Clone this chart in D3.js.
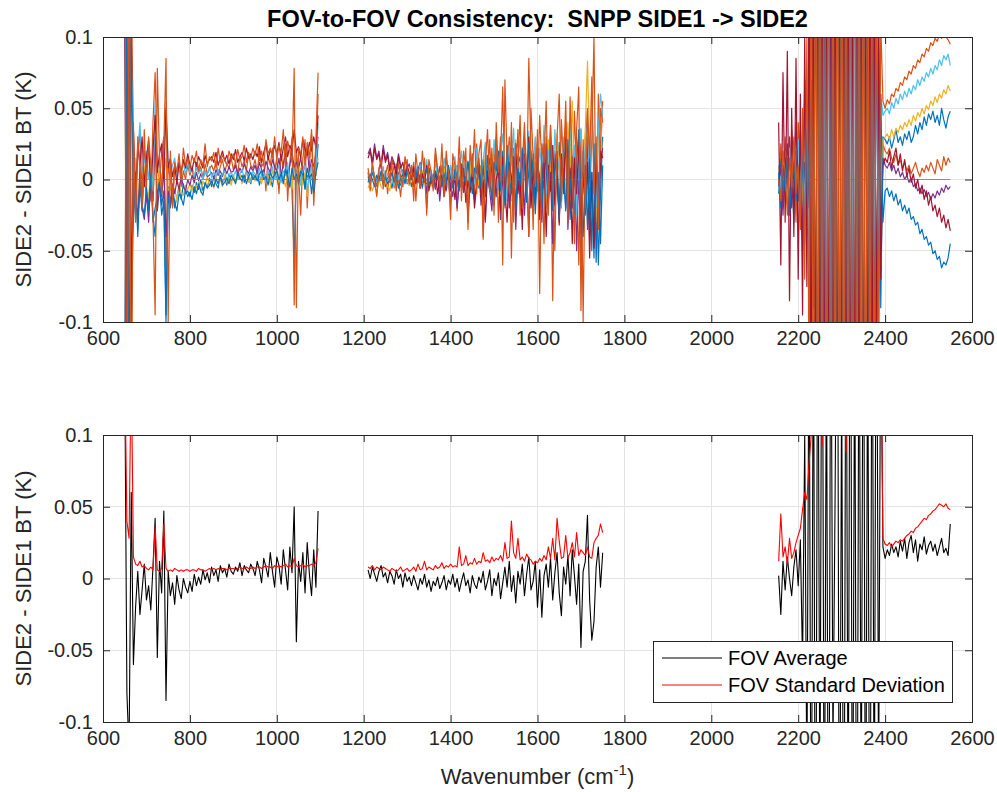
<!DOCTYPE html>
<html><head><meta charset="utf-8">
<script src="https://cdn.jsdelivr.net/npm/d3@7"></script>
<style>
body{margin:0;background:#fff;}
svg{display:block;font-family:"Liberation Sans",Arial,Helvetica,sans-serif;}
</style>
</head><body>
<svg id="chart" width="997" height="792"></svg>
<script>
// ---------------- DATA ----------------
// Wavenumber channel grid (cm-1) of the three CrIS bands, 5 cm-1 sampling
const bandStart = [650, 1210, 2155];
const bandEnd = [1095, 1750, 2550];
const bandStep = 5;
const wavenumber = [].concat(...bandStart.map((s, i) => d3.range(s, bandEnd[i] + 1, bandStep)));

const xTicks = [600, 800, 1000, 1200, 1400, 1600, 1800, 2000, 2200, 2400, 2600];
const yTicks = [-0.1, -0.05, 0, 0.05, 0.1];
const yTickLabels = ["-0.1", "-0.05", "0", "0.05", "0.1"];

const fovNames = ["FOV1","FOV2","FOV3","FOV4","FOV5","FOV6","FOV7","FOV8","FOV9"];
const fovColors = ["#0072BD","#D95319","#EDB120","#7E2F8E","#77AC30","#4DBEEE","#A2142F","#0072BD","#D95319"];
const legendLabels = ["FOV Average", "FOV Standard Deviation"];

// SIDE2 - SIDE1 BT differences, mK
const fov1 = [
180,-160,90,-110,-15,8,-28,-5,-22,4,
-12,-18,6,-25,-40,-10,2,-18,-8,-95,
-5,-15,-8,-20,-12,-6,-14,-3,-10,-8,
-12,-4,-9,-2,-7,0,-8,-3,-6,1,
-5,2,-3,-6,3,-2,1,-4,4,-1,
2,-3,5,0,3,-2,6,1,-3,4,
0,5,-4,3,7,-2,4,1,-5,6,
2,-6,5,0,8,-4,3,-8,-55,6,
-3,4,9,-7,2,5,-10,6,3,25,
2,-3,5,0,-4,3,-1,4,-5,1,
3,-6,2,-2,5,-4,0,6,-3,2,
-5,4,-1,7,-6,2,5,-3,8,-2,
3,-7,6,0,-4,9,-2,5,-8,4,
0,10,-5,6,-9,3,12,-4,7,-1,
11,-6,4,14,-8,2,15,-10,6,18,
-12,8,20,-5,13,-15,22,4,-18,10,
16,-8,25,-14,6,20,-20,12,3,-25,
18,-6,24,-16,9,-22,15,2,26,-12,
8,-20,18,-28,5,22,-15,10,-32,14,
-25,12,-40,5,-55,20,-60,-10,30,
-10,15,-20,5,25,-15,10,-30,20,-5,
30,-25,12,-40,45,-60,80,-150,200,-250,
300,-280,220,-350,260,-200,320,-300,250,-220,
280,-330,240,-260,350,-300,270,-240,310,-280,
230,-320,260,-200,150,-180,120,-90,30,28,
25,30,22,28,35,26,30,24,32,28,
34,26,30,38,32,40,35,44,38,46,
42,48,40,45,38,50,42,36,44,48];

const fov2 = [
-150,250,-180,140,30,-20,15,35,-10,20,
5,25,-15,40,75,10,-5,20,30,-60,
10,0,-20,8,2,12,-5,6,0,10,
3,8,-2,12,5,9,1,11,4,7,
10,6,13,3,9,14,5,11,8,15,
7,12,4,16,9,13,6,18,10,8,
14,5,20,9,12,-8,17,10,22,6,
15,-10,18,8,25,-15,12,30,-88,20,
5,-25,15,28,-20,10,32,-18,14,60,
5,-8,10,2,-5,8,12,-3,6,-10,
4,9,-6,11,0,-12,7,3,14,-4,
2,12,-15,6,9,-2,15,-25,8,4,
-6,18,3,-10,10,-4,20,0,-18,12,
5,-22,15,8,-8,22,-35,6,18,-12,
25,-5,10,-40,20,2,28,-15,12,30,
-30,15,65,-20,8,30,-55,22,5,35,
-25,12,40,-10,85,18,-35,28,-8,45,
10,-45,30,0,38,-85,20,12,-30,42,
8,55,-20,25,-15,48,5,-60,35,-100,
20,50,-15,30,100,-40,60,15,55,
0,25,-15,30,5,-20,35,10,-30,40,
15,-45,60,-20,90,-120,160,-200,250,-300,
280,-260,320,-240,300,-280,260,-320,290,-250,
310,-270,240,-330,280,-260,300,-290,250,-310,
270,-240,200,-220,180,-150,90,-60,25,20,
18,22,15,12,18,10,14,8,12,6,
10,4,8,12,6,2,8,5,10,6,
12,8,4,14,10,6,16,10,15,12];

const fov3 = [
120,-200,60,-80,-10,15,-20,5,-15,10,
-8,-12,8,-18,20,-5,6,-10,2,15,
-10,-4,-12,-6,-15,-2,-9,-11,-4,-7,
-3,-8,0,-6,-2,-9,-1,-5,2,-4,
-1,-6,2,-3,0,-5,3,-2,1,-4,
3,-1,0,4,-3,2,5,-2,1,3,
-1,4,2,-3,5,0,3,-4,6,1,
4,-2,7,0,-5,6,2,-7,12,3,
0,8,-4,5,-12,3,7,-6,4,15,
-6,-2,-8,-3,-10,0,-5,-7,2,-4,
-8,1,-3,-6,3,-2,-5,4,-1,-4,
2,-3,5,-1,-4,6,0,-2,4,-5,
3,0,6,-4,2,8,-3,5,-1,7,
-2,9,3,-6,10,1,-3,12,-5,6,
14,-4,8,-10,16,3,-8,18,0,10,
-12,20,6,-4,24,10,-15,15,28,-6,
12,-18,22,5,30,-10,16,2,25,-14,
20,8,-20,28,4,14,-12,32,6,-8,
24,-15,40,10,55,-5,18,30,-20,12,
35,83,22,45,10,-30,28,40,15,
8,-12,20,-5,15,0,-18,25,5,-10,
30,-20,50,-35,110,-140,190,-230,270,-210,
250,-300,230,-270,310,-250,280,-240,260,-300,
240,-280,320,-230,270,-310,250,-270,300,-240,
280,-250,210,-190,160,-130,100,-60,28,30,
32,28,35,30,36,33,38,35,40,37,
42,38,45,41,47,44,50,46,52,49,
55,52,58,54,60,57,63,60,66,62];

const fov4 = [
100,-120,200,-60,-25,-5,-35,10,-20,-28,
-10,-30,0,-15,30,-22,-5,-12,8,-40,
-8,-18,-3,-10,-1,-7,2,-5,-8,0,
-4,3,-2,5,-1,4,0,6,2,3,
5,1,7,3,6,2,8,4,9,5,
6,10,3,8,5,11,7,4,9,6,
10,4,12,7,3,13,8,5,14,9,
6,15,2,11,18,4,10,20,8,12,
7,16,3,12,22,5,14,9,18,30,
18,22,12,25,15,20,10,24,14,19,
8,16,12,6,18,10,3,14,8,11,
2,9,-2,7,12,0,5,-10,8,-3,
4,-6,6,-15,2,0,-8,5,-4,-12,
3,-20,-2,6,-9,2,-25,-3,4,-14,
-5,8,-18,0,-30,10,-8,-22,5,-12,
12,-28,2,-10,18,-20,-6,15,-35,4,
-12,20,-25,8,-40,14,-5,-18,22,-8,
-30,10,25,-15,5,-45,18,-2,-25,12,
-10,28,-35,6,-20,15,-50,8,-65,20,
-15,30,-28,5,-45,25,-30,10,22,
-5,10,-25,15,-10,30,-20,5,40,-15,
20,-50,70,-40,120,-160,210,-190,240,-280,
260,-230,290,-310,240,-270,300,-250,220,-290,
270,-240,310,-260,230,-300,280,-220,260,-270,
240,-200,190,-170,140,-100,70,-40,15,10,
8,12,6,10,4,8,2,5,0,3,
-2,1,-5,-3,-8,-6,-10,-7,-12,-9,
-14,-10,-13,-8,-11,-6,-9,-4,-7,-5];

// FOV5 is the reference FOV: identically zero
const fov5 = wavenumber.map(() => 0);

const fov6 = [
-140,160,-100,80,25,-10,18,40,5,12,
20,0,15,-8,55,8,12,-3,18,55,
12,5,10,15,2,8,6,12,3,14,
5,10,2,8,4,7,0,6,3,9,
1,5,2,7,0,4,6,-1,3,5,
2,6,0,4,7,1,5,3,-2,6,
4,1,8,2,5,-3,6,3,9,0,
5,10,-2,6,3,12,-6,4,8,2,
9,-4,6,11,-8,3,10,0,7,40,
5,0,8,3,-2,6,1,9,-3,4,
7,2,-4,6,0,10,3,-2,8,1,
5,-3,9,2,11,-1,6,14,0,7,
-5,12,3,8,-2,15,5,-6,10,2,
16,-4,8,20,1,12,-8,18,6,-3,
22,4,-10,14,26,0,10,-12,28,8,
-6,18,32,5,-15,24,10,36,-4,15,
28,-10,20,6,34,-18,12,30,-2,22,
8,38,-12,18,26,-8,35,4,15,-20,
30,10,-15,42,6,24,-25,18,36,-10,
25,40,-5,50,15,-20,35,60,45,
10,-8,18,2,-15,22,6,-10,15,28,
-5,35,-30,60,-80,130,-170,220,-260,240,
-280,300,-250,270,-310,230,-260,290,-300,260,
-240,280,-320,250,-270,300,-230,260,-290,310,
-260,230,-210,190,-150,120,-80,60,45,48,
50,46,54,50,57,53,60,56,62,58,
64,60,66,63,70,66,72,69,75,72,
78,74,80,77,84,80,87,84,88,80];

const fov7 = [
220,-140,150,-100,35,-15,25,10,30,-5,
15,28,-8,20,45,5,18,25,0,50,
8,15,2,10,-3,12,5,14,8,18,
10,6,15,9,16,12,8,17,11,14,
16,12,19,10,15,20,13,17,11,18,
14,21,12,16,19,13,22,15,18,14,
20,16,23,12,19,25,14,21,17,24,
18,26,13,22,30,16,24,20,35,19,
23,15,28,21,17,26,20,30,22,45,
15,20,10,22,14,18,8,21,12,17,
6,14,10,3,16,8,12,2,9,5,
0,8,-3,6,-6,4,-2,10,-8,1,
-4,5,-10,0,3,-12,-2,4,-8,-1,
-14,2,-6,-3,8,-16,-1,-9,5,-20,
-4,10,-12,-2,-28,6,-8,14,-18,0,
8,-22,16,-6,-30,12,2,-14,25,-10,
5,-35,18,-4,30,-20,8,-12,22,-28,
0,15,-40,10,-8,24,-18,6,-32,18,
-5,30,-22,8,-45,15,-10,26,-38,5,
-20,12,-55,0,-48,18,-35,20,15,
40,-60,75,-30,90,-85,50,-40,85,-70,
60,-95,100,-75,130,-180,200,-260,300,-240,
270,-290,250,-230,310,-280,240,-300,270,-250,
290,-260,230,-310,250,-280,320,-240,260,-290,
220,-270,240,-180,200,-150,120,-70,10,15,
12,20,8,16,22,10,18,6,14,2,
8,-2,4,-6,0,-10,-4,-14,-8,-18,
-12,-22,-18,-26,-20,-30,-25,-34,-28,-36];

const fov8 = [
-200,130,-170,100,-30,5,-40,0,-18,-25,
-5,-22,4,-30,-20,-12,-2,-25,-15,-100,
-12,-20,-6,-16,-22,-10,-13,-18,-7,-12,
-9,-14,-5,-10,-3,-8,-11,-2,-6,-4,
-1,-5,0,-3,2,-4,-2,1,-3,3,
0,-2,4,1,-1,3,-3,2,5,0,
3,-1,4,6,0,2,-4,5,1,3,
6,0,4,-3,7,2,-5,8,0,4,
-2,6,3,-6,8,1,4,-9,5,12,
-2,4,0,-5,3,-1,6,-4,2,-3,
0,5,-2,3,-6,1,4,-3,6,-1,
2,-5,7,-2,4,-6,3,8,-4,1,
-3,6,0,9,-5,4,-2,10,1,-6,
7,2,-8,11,3,-4,13,0,-10,8,
4,15,-6,9,-12,17,2,-14,12,6,
20,-8,10,-18,24,3,-10,16,-22,8,
-4,22,12,-16,26,-6,18,-24,10,2,
-20,25,6,-12,30,-18,8,20,-28,14,
4,-22,28,-10,16,-30,12,35,-8,-40,
10,-35,18,-50,25,-58,5,-45,10,
5,-20,10,-8,15,-25,0,12,-15,8,
-30,20,-45,35,-20,70,-90,180,-220,260,
-300,240,-260,330,-280,220,-310,290,-240,270,
-320,250,-280,300,-230,340,-260,290,-300,240,
-270,210,-250,180,-160,140,-100,60,-30,-8,
-6,-12,-8,-15,-10,-18,-14,-22,-18,-24,
-20,-28,-26,-32,-30,-38,-35,-42,-40,-46,
-44,-52,-50,-56,-54,-62,-58,-60,-55,-45];

const fov9 = [
250,-250,220,-200,40,-30,30,10,-20,35,
-5,30,10,-25,-95,78,15,-10,25,85,
-100,20,-15,12,5,18,0,22,10,15,
8,17,12,20,6,14,10,25,9,16,
13,19,8,22,12,17,14,10,20,15,
18,11,21,14,16,24,12,19,15,22,
17,25,13,20,10,28,18,22,15,30,
14,24,19,35,8,27,20,12,78,-90,
22,18,30,10,26,15,35,-5,28,75,
8,-4,12,0,-12,6,15,-6,3,10,
-2,14,5,-8,12,2,-5,16,8,-3,
10,-15,18,4,-6,20,2,-20,14,6,
-8,22,8,-4,25,-12,15,5,-28,18,
10,-5,30,-15,20,8,-30,24,2,35,
-10,18,28,-42,12,35,-8,22,-25,40,
5,30,-60,70,15,-10,40,-30,25,10,
45,-20,30,8,-40,50,15,-5,35,-80,
25,12,55,-25,38,5,-50,30,60,-15,
20,40,-30,58,10,-45,35,65,-92,28,
-20,48,15,72,-10,30,-35,50,40,
0,-15,20,5,-25,15,-5,30,-10,10,
-35,50,-70,100,-150,200,-250,300,-320,350,
-300,330,-280,310,-350,290,-320,340,-300,280,
-330,300,-290,320,-310,350,-280,300,-340,290,
-310,280,-260,240,-200,180,-140,110,55,50,
56,53,60,58,64,62,68,66,72,70,
76,74,80,78,84,82,88,86,92,90,
96,94,99,97,102,99,104,100,98,95];

// Bottom panel: FOV average and FOV standard deviation, mK
const fovAverage = [
150,-80,-120,60,-60,-20,5,-25,-8,10,
-15,-5,-22,8,42,-55,12,-10,47,-85,
5,-12,-3,-18,2,-8,-14,0,-6,-10,
-2,-9,3,-5,1,-4,6,-1,4,-3,
8,2,6,-2,9,4,7,1,10,5,
3,8,5,11,2,9,6,4,10,7,
2,12,6,-3,14,8,1,18,5,-6,
15,9,-4,20,6,-8,22,4,50,-44,
12,-2,18,-10,25,3,-12,20,-6,47,
6,0,8,3,-2,5,9,1,4,-3,
5,2,-4,6,0,3,-6,4,-2,1,
-5,2,-3,-8,0,-4,3,-6,-1,-9,
-2,-5,1,-7,-3,2,-8,-1,-4,3,
-6,0,-9,-2,4,-5,-1,-10,2,-4,
-7,1,-3,5,-8,-2,6,-12,0,-5,
4,-14,-3,8,-6,12,-9,2,-17,5,
-4,10,-12,3,15,-8,-2,12,-20,6,
-27,2,10,-6,14,-15,4,18,-10,-26,
8,-4,16,-12,20,2,-18,10,-48,5,
12,44,-15,-43,-30,8,22,-6,18,
2,-25,12,-8,15,0,-12,8,20,-5,
27,-60,100,-150,200,-250,220,-300,260,-180,
300,-240,180,-300,250,-120,60,300,-280,150,
-300,260,-200,320,-260,200,-310,240,-180,280,
-250,200,-300,260,-200,300,-150,200,22,14,
20,16,24,18,22,15,26,19,28,14,
25,30,18,27,12,24,20,29,17,23,
26,19,24,16,22,28,18,21,16,38];

const fovStdDev = [
150,40,28,150,15,10,9,12,8,9,
7,6,8,6,36,6,5,7,38,7,
5,6,5,7,6,5,6,5,6,6,
5,6,6,5,7,6,6,5,6,7,
6,7,6,7,6,7,7,6,7,7,
7,6,7,8,7,7,8,7,7,8,
7,8,8,7,8,9,8,8,7,9,
8,9,8,9,10,8,9,8,14,9,
8,9,10,8,9,9,10,9,11,21,
8,7,9,6,8,7,6,8,7,6,
5,7,6,5,6,8,5,6,7,5,
6,8,5,10,6,7,12,6,8,7,
6,9,7,8,11,7,9,8,10,8,
9,8,22,9,10,16,9,11,10,14,
10,12,11,18,12,13,11,15,12,14,
13,16,12,25,14,15,40,18,14,28,
13,15,12,17,14,13,10,12,11,14,
12,16,13,22,14,28,13,42,26,14,
15,30,14,18,25,15,32,16,20,18,
16,22,15,14,25,28,30,38,32,
12,45,15,22,10,28,14,18,25,30,
35,48,60,55,80,100,130,200,250,180,
92,200,260,300,240,220,280,250,300,260,
230,88,270,300,260,240,290,310,250,280,
300,270,250,280,260,300,240,180,28,24,
23,25,22,24,26,25,27,26,28,30,
31,33,32,35,36,38,40,42,41,44,
45,47,48,50,52,51,50,52,49,48];

const topSeries = [fov1, fov2, fov3, fov4, fov5, fov6, fov7, fov8, fov9];
const bottomSeries = [fovAverage, fovStdDev];
const bottomColors = ["#000000", "#FF0000"];

// ---------------- DRAW ----------------
const svg = d3.select("#chart");
const axColor = "#262626", gridColor = "#e3e3e3";

const panels = [
  {top: 37, bottom: 322, id: "top"},
  {top: 435, bottom: 722, id: "bot"}
];
const left = 103, right = 972;
const x = d3.scaleLinear().domain([600, 2600]).range([left, right]);

// index segments (each band is a separate piece)
const segments = [];
{
  let s = 0;
  for (let i = 1; i <= wavenumber.length; i++) {
    if (i === wavenumber.length || wavenumber[i] - wavenumber[i - 1] > bandStep) {
      segments.push([s, i]); s = i;
    }
  }
}

function drawPanel(p, seriesList, colors, lw) {
  const y = d3.scaleLinear().domain([-0.1, 0.1]).range([p.bottom, p.top]);
  const g = svg.append("g");
  const h = p.bottom - p.top, w = right - left;
  const grid = g.append("g");
  xTicks.forEach(t => grid.append("line").attr("x1", x(t)).attr("x2", x(t)).attr("y1", p.top).attr("y2", p.bottom)
    .attr("stroke", gridColor).attr("stroke-width", 1).attr("shape-rendering", "crispEdges"));
  yTicks.forEach(t => grid.append("line").attr("x1", left).attr("x2", right).attr("y1", y(t)).attr("y2", y(t))
    .attr("stroke", gridColor).attr("stroke-width", 1).attr("shape-rendering", "crispEdges"));
  svg.append("clipPath").attr("id", "clip-" + p.id).append("rect")
    .attr("x", left).attr("y", p.top).attr("width", w).attr("height", h);
  const lines = g.append("g").attr("clip-path", `url(#clip-${p.id})`);
  const line = d3.line().x(d => x(d[0])).y(d => y(d[1] / 1000));
  seriesList.forEach((vals, k) => {
    segments.forEach(([a, b]) => {
      const pts = [];
      for (let i = a; i < b && i < vals.length; i++) pts.push([wavenumber[i], vals[i]]);
      lines.append("path").attr("d", line(pts)).attr("fill", "none")
        .attr("stroke", colors[k]).attr("stroke-width", lw).attr("stroke-linejoin", "round");
    });
  });
  const fs = 20;
  const axB = g.append("g").attr("transform", `translate(0,${p.bottom})`)
    .call(d3.axisBottom(x).tickValues(xTicks).tickSize(-7).tickPadding(9).tickFormat(d3.format("d")));
  const axT = g.append("g").attr("transform", `translate(0,${p.top})`)
    .call(d3.axisTop(x).tickValues(xTicks).tickSize(-7).tickFormat(""));
  const axL = g.append("g").attr("transform", `translate(${left},0)`)
    .call(d3.axisLeft(y).tickValues(yTicks).tickSize(-7).tickPadding(10).tickFormat((d, i) => yTickLabels[i]));
  const axR = g.append("g").attr("transform", `translate(${right},0)`)
    .call(d3.axisRight(y).tickValues(yTicks).tickSize(-7).tickFormat(""));
  [axB, axT, axL, axR].forEach(a => {
    a.select(".domain").remove();
    a.selectAll(".tick line").attr("stroke", axColor).attr("stroke-width", 1);
    a.selectAll("text").attr("fill", axColor).style("font-size", fs + "px")
      .style("font-family", '"Liberation Sans", Arial, Helvetica, sans-serif');
  });
  g.append("rect").attr("x", left).attr("y", p.top).attr("width", w).attr("height", h)
    .attr("fill", "none").attr("stroke", axColor).attr("stroke-width", 1).attr("shape-rendering", "crispEdges");
  g.append("text").attr("transform", `translate(31,${(p.top + p.bottom) / 2}) rotate(-90)`)
    .attr("text-anchor", "middle").attr("fill", axColor).style("font-size", "22px")
    .text("SIDE2 - SIDE1 BT (K)");
  return {g, y};
}

drawPanel(panels[0], topSeries, fovColors, 1.2);
drawPanel(panels[1], bottomSeries, bottomColors, 1.1);

// title
svg.append("text").attr("x", (left + right) / 2).attr("y", 27).attr("text-anchor", "middle")
  .attr("fill", "#000").style("font-size", "23.5px").style("font-weight", "bold").style("white-space", "pre")
  .text("FOV-to-FOV Consistency:  SNPP SIDE1 -> SIDE2");

// x label
const xl = svg.append("text").attr("x", (left + right) / 2).attr("y", 784).attr("text-anchor", "middle")
  .attr("fill", axColor).style("font-size", "22px");
xl.append("tspan").text("Wavenumber (cm");
xl.append("tspan").attr("dy", -9).style("font-size", "15px").text("-1");
xl.append("tspan").attr("dy", 9).text(")");

// legend
const lg = svg.append("g");
lg.append("rect").attr("x", 653).attr("y", 641).attr("width", 299).attr("height", 61)
  .attr("fill", "#fff").attr("stroke", axColor).attr("stroke-width", 1).attr("shape-rendering", "crispEdges");
legendLabels.forEach((lab, i) => {
  const yy = 658 + i * 27;
  lg.append("line").attr("x1", 662).attr("x2", 722).attr("y1", yy).attr("y2", yy)
    .attr("stroke", bottomColors[i]).attr("stroke-width", 1.1);
  lg.append("text").attr("x", 728).attr("y", yy).attr("dy", "0.35em").attr("fill", "#000")
    .style("font-size", "20px").text(lab);
});
</script>
</body></html>
